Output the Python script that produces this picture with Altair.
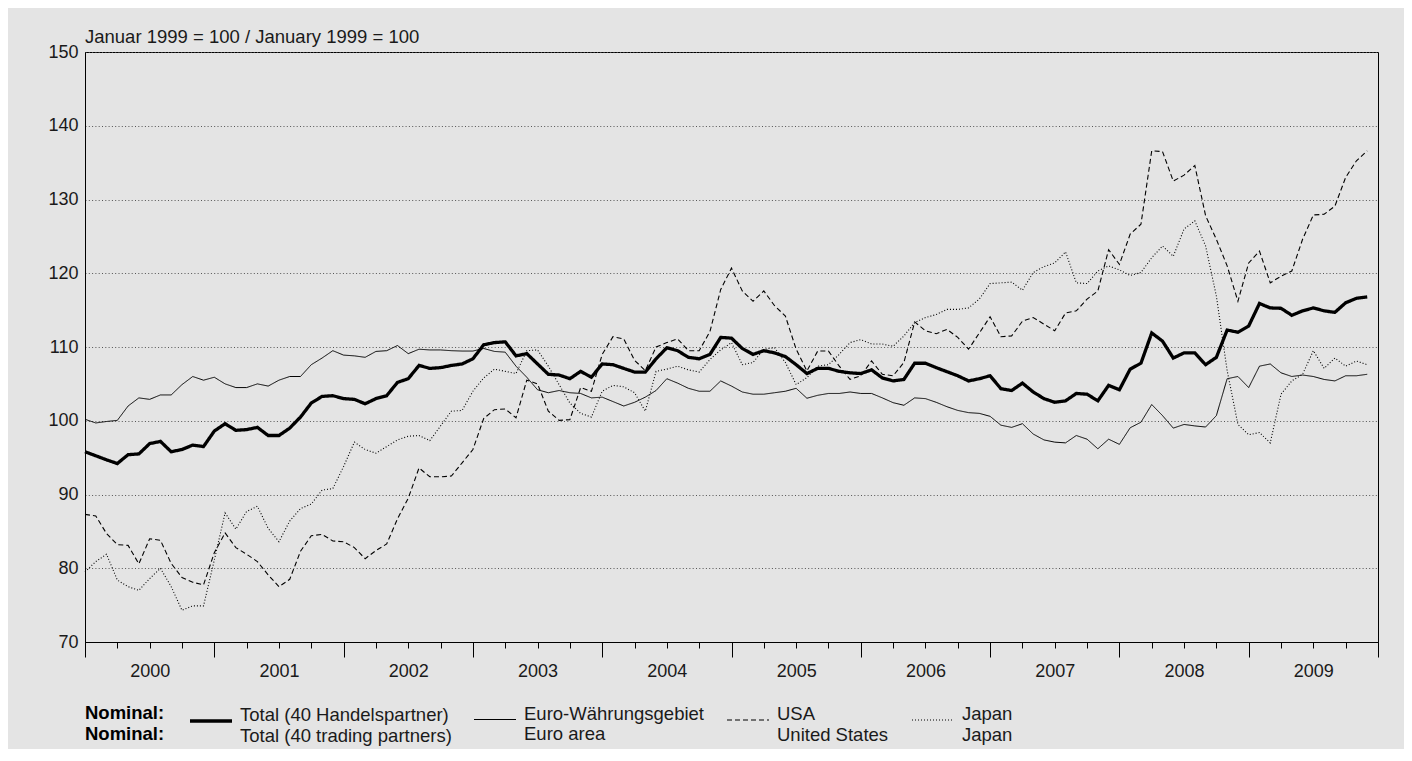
import altair as alt
import pandas as pd

FONT = "Liberation Sans"
TXT = "#1a1a1a"
BG = "#e4e4e4"

# month index 0 = Jan 2000 ... 119 = Dec 2009
months = list(range(120))

total = [95.8, 95.25, 94.7, 94.2, 95.4, 95.5, 96.9, 97.2, 95.8, 96.1, 96.7, 96.5,
         98.6, 99.6, 98.7, 98.8, 99.1, 98.0, 98.0, 99.0, 100.5, 102.4, 103.3, 103.4,
         103.0, 102.9, 102.3, 103.0, 103.4, 105.2, 105.7, 107.5, 107.1, 107.2, 107.5, 107.7,
         108.4, 110.3, 110.6, 110.7, 108.8, 109.1, 107.7, 106.3, 106.2, 105.7, 106.7, 105.9,
         107.7, 107.6, 107.1, 106.6, 106.6, 108.4, 109.9, 109.5, 108.6, 108.4, 109.0, 111.3,
         111.2, 109.8, 109.0, 109.5, 109.2, 108.7, 107.6, 106.4, 107.1, 107.1, 106.7, 106.5,
         106.4, 106.9, 105.8, 105.4, 105.6, 107.8, 107.8, 107.2, 106.65, 106.1, 105.4, 105.7,
         106.1, 104.35, 104.1, 105.1, 103.9, 103.0, 102.5, 102.7, 103.7, 103.6, 102.7, 104.8,
         104.2, 107.0, 107.8, 111.9, 110.8, 108.5, 109.2, 109.2, 107.6, 108.6, 112.3, 112.0,
         112.85, 115.9, 115.3, 115.25, 114.3, 114.9, 115.3, 114.9, 114.7, 116.0, 116.6, 116.8]

euro = [100.2, 99.7, 99.9, 100.05, 102.0, 103.1, 102.9, 103.5, 103.5, 104.9, 106.0, 105.5,
        105.9, 105.0, 104.5, 104.5, 105.0, 104.7, 105.5, 106.0, 106.0, 107.6, 108.5, 109.5,
        108.9, 108.8, 108.6, 109.4, 109.5, 110.2, 109.1, 109.7, 109.6, 109.6, 109.5, 109.45,
        109.45, 109.8, 109.4, 109.3, 107.4, 105.9, 104.2, 103.8, 104.1, 103.8, 103.7, 103.1,
        103.2, 102.6, 102.0, 102.5, 103.2, 104.1, 105.7, 105.1, 104.4, 104.0, 104.0, 105.4,
        104.7, 103.9, 103.6, 103.6, 103.8, 104.0, 104.4, 103.05, 103.45, 103.7, 103.7, 103.9,
        103.7, 103.7, 103.1, 102.45, 102.1, 103.1, 103.0, 102.5, 101.9, 101.4, 101.1, 101.0,
        100.6, 99.4, 99.1, 99.6, 98.2, 97.4, 97.1, 97.0, 98.0, 97.5, 96.2, 97.5,
        96.8, 99.05, 99.8, 102.2, 100.7, 99.0, 99.5, 99.3, 99.15, 100.7, 105.7, 106.0,
        104.5, 107.4, 107.7, 106.5, 106.0, 106.2, 106.0, 105.6, 105.4, 106.1, 106.1, 106.3]

usa = [87.3, 87.1, 84.7, 83.2, 83.1, 80.6, 84.0, 83.8, 80.65, 78.75, 78.1, 77.75,
       82.1, 84.8, 82.8, 81.9, 80.9, 79.1, 77.5, 78.5, 82.3, 84.4, 84.6, 83.7,
       83.6, 82.8, 81.3, 82.4, 83.3, 86.7, 89.5, 93.6, 92.4, 92.4, 92.5, 94.3,
       96.1, 100.3, 101.5, 101.6, 100.4, 105.5, 105.0, 101.3, 100.05, 100.15, 104.5, 104.0,
       109.0, 111.4, 111.1, 108.2, 106.8, 110.0, 110.6, 111.1, 109.5, 109.5, 112.1, 117.8,
       120.7, 117.6, 116.2, 117.6, 115.6, 114.2, 109.7, 106.75, 109.45, 109.45, 107.4, 105.6,
       106.1, 108.1, 106.3, 106.1, 107.9, 113.4, 112.2, 111.8, 112.4, 111.3, 109.7, 111.9,
       114.1, 111.4, 111.5, 113.5, 114.0, 113.1, 112.2, 114.6, 114.9, 116.5, 117.6, 123.2,
       121.2, 125.3, 126.65, 136.6, 136.5, 132.5, 133.3, 134.6, 127.8, 124.6, 121.0, 116.2,
       121.4, 123.0, 118.7, 119.6, 120.3, 124.6, 127.9, 128.0, 129.1, 133.0, 135.25, 136.6]

japan = [79.5, 80.9, 81.9, 78.4, 77.5, 77.0, 78.6, 80.0, 77.5, 74.3, 74.9, 74.9,
         81.1, 87.5, 85.3, 87.7, 88.4, 85.4, 83.6, 86.4, 88.1, 88.7, 90.6, 90.8,
         93.8, 97.1, 96.1, 95.6, 96.5, 97.4, 97.9, 98.0, 97.3, 99.3, 101.3, 101.4,
         104.0, 105.8, 107.0, 106.7, 106.4, 109.5, 109.6, 107.4, 104.9, 102.4, 101.0, 100.5,
         104.0, 104.8, 104.6, 103.8, 101.3, 106.7, 107.0, 107.4, 106.9, 106.6, 108.3, 109.6,
         110.6, 107.6, 107.9, 109.7, 109.9, 107.9, 104.9, 105.85, 107.4, 107.6, 109.0, 110.6,
         111.0, 110.4, 110.4, 110.1, 111.5, 113.3, 114.0, 114.4, 115.1, 115.1, 115.3, 116.5,
         118.6, 118.7, 118.8, 117.7, 120.1, 120.9, 121.4, 122.9, 118.7, 118.6, 120.3, 121.0,
         120.45, 119.7, 120.1, 122.1, 123.7, 122.3, 126.0, 127.1, 123.7, 116.9, 106.8, 99.5,
         98.1, 98.4, 97.0, 103.6, 105.4, 106.3, 109.5, 107.1, 108.5, 107.4, 108.1, 107.6]

series_names = [
    "Total (40 Handelspartner)|Total (40 trading partners)",
    "Euro-Währungsgebiet|Euro area",
    "USA|United States",
    "Japan|Japan",
]
dash_styles = [[1, 0], [1, 0], [5, 3], [1, 2]]
line_widths = [3.3, 1.0, 1.1, 1.1]

year_ticks = list(range(2000, 2011))
quarter_ticks = [2000 + q / 4 for q in range(41)]
y_ticks = list(range(70, 151, 10))

title_text = "Januar 1999 = 100 / January 1999 = 100"
# leading empty line lowers the two "Nominal:" lines to the label rows
legend_title = ["", "Nominal:", "Nominal:"]

rows = []
# draw order: Japan, USA, Euro, Total (Total on top)
for name, vals in zip(series_names[::-1], [japan, usa, euro, total]):
    for m, v in zip(months, vals):
        rows.append({"t": 2000 + m / 12, "v": v, "series": name})
df = pd.DataFrame(rows)

x_scale = alt.Scale(domain=[2000, 2010], nice=False, zero=False)
y_scale = alt.Scale(domain=[70, 150], nice=False, zero=False)

y_enc = alt.Y(
    "v:Q", scale=y_scale, title=None,
    axis=alt.Axis(values=y_ticks, ticks=False, tickSize=0, labelPadding=7,
                  labelFont=FONT, labelFontSize=18, labelColor=TXT,
                  domainColor="black", domainWidth=1,
                  grid=True, gridColor="#555555", gridDash=[1, 2.3], gridWidth=1),
)

leg = alt.Legend(
    orient="none", legendX=0, legendY=646, direction="horizontal", columns=4,
    gridAlign="none", columnPadding=20, padding=0,
    symbolType="stroke", symbolSize=1764, symbolStrokeColor="black",
    labelExpr="split(datum.label, '|')", labelFont=FONT, labelFontSize=18.5,
    labelColor=TXT, labelLimit=0, labelOffset=6, labelBaseline="alphabetic",
    title=legend_title, titleOrient="left", titleFont=FONT, titleFontSize=18.5,
    titleFontWeight="bold", titleColor="black", titlePadding=23,
    titleLineHeight=21, titleBaseline="alphabetic", titleAnchor="start",
)

lines = alt.Chart(df).mark_line(color="black").encode(
    x=alt.X("t:Q", scale=x_scale, title=None,
            axis=alt.Axis(orient="bottom", values=year_ticks, labels=False,
                          tickSize=15, tickColor="black", tickWidth=1,
                          domainColor="black", domainWidth=1, grid=False)),
    y=y_enc,
    strokeDash=alt.StrokeDash("series:N",
                              scale=alt.Scale(domain=series_names, range=dash_styles),
                              legend=leg),
    strokeWidth=alt.StrokeWidth("series:N",
                                scale=alt.Scale(type="ordinal", domain=series_names,
                                                range=line_widths),
                                legend=leg),
)

quarters = alt.Chart(df).mark_line(opacity=0).encode(
    x=alt.X("t:Q", scale=x_scale, title=None,
            axis=alt.Axis(orient="bottom", values=quarter_ticks, tickSize=6,
                          tickColor="black", tickWidth=1, domain=False, grid=False,
                          labelExpr="datum.value % 1 == 0.5 ? '' + floor(datum.value) : ''",
                          labelFont=FONT, labelFontSize=18, labelColor=TXT,
                          labelPadding=14, labelOverlap=False, labelFlush=False)),
    y=y_enc,
    detail="series:N",
)

chart = alt.layer(lines, quarters).resolve_axis(x="independent").properties(
    width=1293, height=590,
    autosize=alt.AutoSizeParams(type="none"),
    padding={"left": 77, "top": 44, "right": 26, "bottom": 107},
    background=BG,
    title=alt.TitleParams(text=title_text, anchor="start", frame="group", orient="top",
                          offset=-18, font=FONT, fontSize=18.5, fontWeight="normal",
                          color=TXT, baseline="alphabetic"),
).configure_view(stroke="black", strokeWidth=1)

chart.save("out.html", embed_options={"renderer": "svg", "actions": False})
